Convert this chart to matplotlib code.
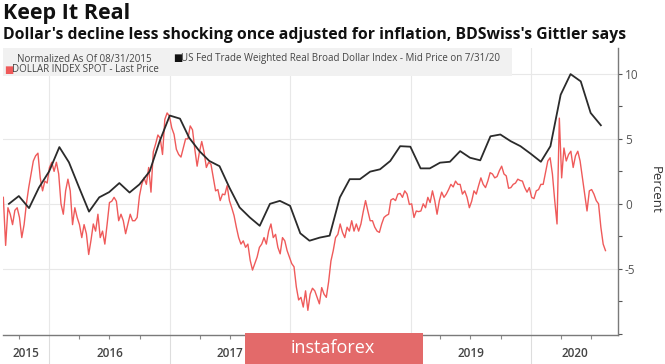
import matplotlib
matplotlib.use("Agg")
import matplotlib.pyplot as plt
import matplotlib.transforms as mtransforms
from matplotlib.patches import Rectangle
from matplotlib.ticker import MultipleLocator
import pandas as pd

plt.rcParams['font.family'] = ['Open Sans', 'DejaVu Sans']
plt.rcParams['axes.unicode_minus'] = False

# US Fed Trade Weighted Real Broad Dollar Index, monthly, % vs 08/31/2015
real_broad = [
    0.0, 0.6, -0.33, 1.25, 2.5, 4.37, 3.2, 1.25, -0.6, 0.5,
    0.9, 1.6, 0.87, 1.5, 2.5, 4.8, 6.8, 6.56, 5.08, 4.06,
    3.3, 2.9, 1.25, -0.28, -1.05, -1.69, 0.0, 0.23, -0.15, -2.27,
    -2.84, -2.6, -2.45, 0.49, 1.9, 1.9, 2.48, 2.66, 3.3, 4.44,
    4.4, 2.73, 2.73, 3.17, 3.24, 4.06, 3.55, 3.35, 5.2, 5.34,
    4.83, 4.44, 3.86, 3.24, 4.44, 8.4, 9.99, 9.43, 7.0, 6.05,
]

# DOLLAR INDEX SPOT, weekly, % vs 08/31/2015
dxy_spot = [
    0.5, -3.2, -0.3, -0.8, -1.6, -0.5, -0.3, -1.05, -2.6, -1.6,
    0.0, 1.25, 2.3, 3.3, 3.7, 3.9, 2.0, 1.0, 1.75, 1.6,
    2.8, 3.2, 2.5, 3.2, 2.3, 0.0, -0.8, 1.0, 1.9, 1.0,
    -1.6, -0.3, -1.05, -1.6, -2.6, -1.6, -2.3, -3.9, -2.8, -1.55,
    -2.1, -0.8, -2.6, -2.1, -3.1, -1.55, 0.1, 0.2, 0.5, 0.2,
    -1.3, -0.8, -1.3, -2.3, -1.55, -0.8, -1.3, -1.3, -1.05, 0.6,
    1.5, 2.0, 1.5, 2.8, 0.9, 4.0, 4.6, 5.3, 5.05, 3.8,
    6.5, 7.0, 6.75, 5.85, 5.35, 4.2, 3.8, 3.6, 4.3, 5.0,
    5.0, 6.0, 5.7, 4.2, 2.9, 4.0, 4.8, 4.0, 2.8, 3.2,
    3.05, 2.0, 1.0, 1.1, 0.25, 0.75, 0.7, 1.4, 0.25, -0.3,
    -0.9, -1.8, -2.6, -3.1, -2.85, -3.35, -3.1, -4.35, -5.1, -4.6,
    -4.1, -3.35, -3.1, -2.6, -3.1, -2.1, -1.55, -2.6, -2.35, -3.35,
    -3.85, -2.6, -2.85, -3.6, -4.1, -4.6, -4.85, -6.4, -7.4, -7.2,
    -7.95, -6.7, -8.2, -6.95, -6.5, -6.7, -7.2, -7.7, -6.45, -6.95,
    -7.2, -6.0, -4.4, -3.6, -2.6, -2.35, -1.55, -2.2, -2.6, -1.8,
    -2.1, -1.3, -2.1, -1.55, -2.1, -1.55, -0.6, 0.25, -0.55, -1.3,
    -1.3, -1.8, -2.1, -2.2, -1.55, -1.05, -0.9, -0.8, 0.3, 0.4,
    0.25, 0.75, 0.8, 0.5, 1.0, 0.75, -0.05, 0.0, -1.05, -0.55,
    -0.6, -0.55, 0.0, -0.3, 0.5, 0.1, 1.0, 0.25, -0.8, 0.25,
    0.9, 0.5, 0.75, 1.1, 1.5, 1.3, 1.75, 1.5, 1.5, 0.75,
    1.0, 0.5, -0.3, 0.2, 1.0, 0.75, 1.4, 2.0, 1.5, 1.25,
    1.75, 2.4, 2.3, 2.0, 2.1, 2.55, 2.9, 2.3, 2.15, 1.2,
    1.25, 1.5, 1.6, 1.9, 1.8, 1.75, 1.25, 0.9, 1.25, 0.5,
    0.4, 1.0, 1.1, 1.5, 1.5, 2.4, 3.3, 3.55, 2.3, 0.25,
    -1.55, 6.6, 2.0, 4.3, 3.3, 3.8, 4.05, 2.8, 3.7, 4.05,
    3.3, 2.0, 0.75, -0.55, 1.0, 1.1, 0.75, 0.25, 0.0, -1.8,
    -3.1, -3.6,
]

years = ['2015', '2016', '2017', '2018', '2019', '2020']
hidden_years = ['2018']  # covered by the watermark in the reference

real_dates = pd.date_range('2015-08-01', periods=len(real_broad), freq='MS') + pd.offsets.MonthEnd(0)
dxy_dates = pd.date_range('2015-08-14', periods=len(dxy_spot), freq='7D')

W, H = 665, 364
fig = plt.figure(figsize=(W / 100, H / 100), dpi=100)
ax = fig.add_axes([3 / W, 1 - 335 / H, 615 / W, 287 / H])

ax.plot(dxy_dates, dxy_spot, color='#ef5a5a', lw=1.0, zorder=3)
ax.plot(real_dates, real_broad, color='#2b2b2b', lw=1.3, zorder=4)

x0, x1 = pd.Timestamp('2015-08-13'), pd.Timestamp('2020-09-21')
ax.set_xlim(x0, x1)
ax.set_ylim(-10.1, 12)

for side in ['left', 'top']:
    ax.spines[side].set_visible(False)
for side in ['bottom', 'right']:
    ax.spines[side].set_color('#7a7a7a')
    ax.spines[side].set_linewidth(1.0)

# right y axis
ax.yaxis.tick_right()
ax.set_yticks([-5, 0, 5, 10])
ax.yaxis.set_minor_locator(MultipleLocator(2.5))
ax.tick_params(axis='y', which='both', direction='out', length=3, width=0.8,
               colors='#555555', labelsize=8.5, pad=2)
ax.grid(axis='y', which='major', color='#e8e8e8', lw=0.8)

# year separators + quarterly ticks
year_starts = [pd.Timestamp(f'{y}-01-01') for y in years[1:]]
ax.set_xticks(year_starts)
ax.set_xticklabels([])
ax.set_xticks(pd.date_range('2015-10-01', '2020-07-01', freq='QS'), minor=True)
ax.tick_params(axis='x', which='major', direction='out', length=21, width=0.8, color='#dddddd')
ax.tick_params(axis='x', which='minor', direction='out', length=3, width=0.8, color='#8a8a8a')
ax.grid(axis='x', which='major', color='#e8e8e8', lw=0.8)

trans = mtransforms.blended_transform_factory(ax.transData, ax.transAxes)
bounds = [x0] + year_starts + [x1]
for i, y in enumerate(years):
    if y in hidden_years:
        continue
    mid = bounds[i] + (bounds[i + 1] - bounds[i]) / 2
    ax.text(mid, -0.066, y, transform=trans, ha='center', va='center',
            fontsize=8.5, fontweight='semibold', color='#444444', clip_on=False)

fig.text(655 / W, 1 - 190 / H, 'Percent', rotation=270, ha='center', va='center',
         fontsize=9.5, color='#333333')

# titles
fig.text(3 / W, 1 - 14 / H, 'Keep It Real', fontsize=15.5, fontweight='bold',
         color='#111111', va='center')
fig.text(3 / W, 1 - 35 / H,
         "Dollar's decline less shocking once adjusted for inflation, BDSwiss's Gittler says",
         fontsize=11.3, fontweight='bold', color='#111111', va='center')

# legend box
fig.patches.append(Rectangle((3 / W, 1 - 76 / H), 509 / W, 28 / H, transform=fig.transFigure,
                             facecolor='#f1f1f1', edgecolor='none', zorder=1))
fig.text(17 / W, 1 - 59 / H, 'Normalized As Of 08/31/2015', fontsize=7, color='#444444',
         va='center', zorder=2)
fig.text(173 / W, 1 - 59 / H, '■', fontsize=7, color='#111111', va='center', zorder=2)
fig.text(181 / W, 1 - 59 / H, 'US Fed Trade Weighted Real Broad Dollar Index - Mid Price on 7/31/20',
         fontsize=7, color='#444444', va='center', zorder=2)
fig.text(4 / W, 1 - 70 / H, '■', fontsize=7, color='#ef5a5a', va='center', zorder=2)
fig.text(12 / W, 1 - 70 / H, 'DOLLAR INDEX SPOT - Last Price', fontsize=7, color='#444444',
         va='center', zorder=2)

# watermark
fig.patches.append(Rectangle((245 / W, 0), 178 / W, 31 / H, transform=fig.transFigure,
                             facecolor='#e36a6a', edgecolor='none', zorder=5))
fig.text(333 / W, 1 - 348 / H, 'instaforex', fontsize=13, color='white',
         ha='center', va='center', zorder=6)

fig.savefig('out.png', dpi=100)
